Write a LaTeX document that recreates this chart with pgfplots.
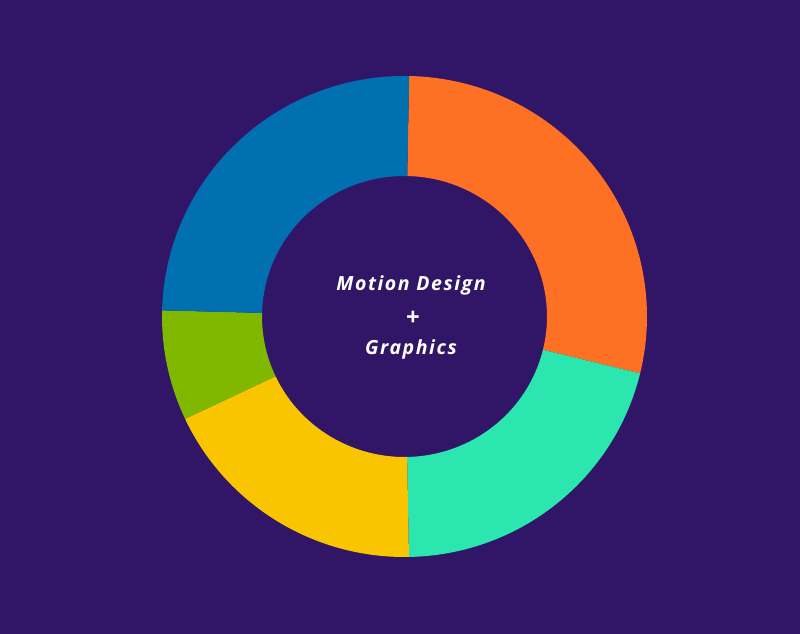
\documentclass[border=0pt]{standalone}
\usepackage{pgfplots}
\usepackage{pgfplotstable}
\usepackage{fontspec}
\setmainfont{Open Sans}
\pgfplotsset{compat=1.18}
\definecolor{bg}{HTML}{311668}
\definecolor{corange}{HTML}{FE7024}
\definecolor{cteal}{HTML}{2CE6B0}
\definecolor{cyellow}{HTML}{F9C400}
\definecolor{cgreen}{HTML}{80B800}
\definecolor{cblue}{HTML}{0070B0}
\pgfplotstableread{
label value color
Orange 28.5 corange
Teal 20.9 cteal
Yellow 18.3 cyellow
Green 7.4 cgreen
Blue 24.9 cblue
}\slices
\begin{document}
\begin{tikzpicture}
\begin{axis}[
  x=1pt, y=1pt,
  xmin=0, xmax=800, ymin=0, ymax=634,
  hide axis, clip=false,
]
\fill[bg] (rel axis cs:0,0) rectangle (rel axis cs:1,1);
\def\cx{404.5}\def\cy{317.5}
\def\Rx{242.5}\def\Ry{240.5}
\def\rx{142.5}\def\ry{140.5}
\pgfmathsetmacro{\startang}{88.9}
\pgfplotsforeachungrouped \i in {0,...,4}{%
  \pgfplotstablegetelem{\i}{value}\of\slices
  \let\val\pgfplotsretval
  \pgfplotstablegetelem{\i}{color}\of\slices
  \let\col\pgfplotsretval
  \pgfmathsetmacro{\endang}{\startang-3.6*\val}
  \pgfmathsetmacro{\ax}{\cx+\Rx*cos(\startang)}
  \pgfmathsetmacro{\ay}{\cy+\Ry*sin(\startang)}
  \pgfmathsetmacro{\bx}{\cx+\rx*cos(\endang)}
  \pgfmathsetmacro{\by}{\cy+\ry*sin(\endang)}
  \edef\cmd{\noexpand\fill[\col] (axis cs:\ax,\ay)
    arc[start angle=\startang, end angle=\endang, x radius=\Rx pt, y radius=\Ry pt]
    -- (axis cs:\bx,\by)
    arc[start angle=\endang, end angle=\startang, x radius=\rx pt, y radius=\ry pt] -- cycle;}
  \cmd
  \global\let\startang\endang
}
\node[anchor=base, text=white, font=\fontsize{19.5}{22}\selectfont\bfseries\itshape\addfontfeature{LetterSpace=8}] at (axis cs:411,343.3) {Motion Design};
\node[anchor=center, text=white, font=\fontsize{24}{26}\selectfont\bfseries] at (axis cs:413,316) {+};
\node[anchor=base, text=white, font=\fontsize{19.5}{22}\selectfont\bfseries\itshape\addfontfeature{LetterSpace=8}] at (axis cs:411,279.7) {Graphics};
\end{axis}
\end{tikzpicture}
\end{document}
